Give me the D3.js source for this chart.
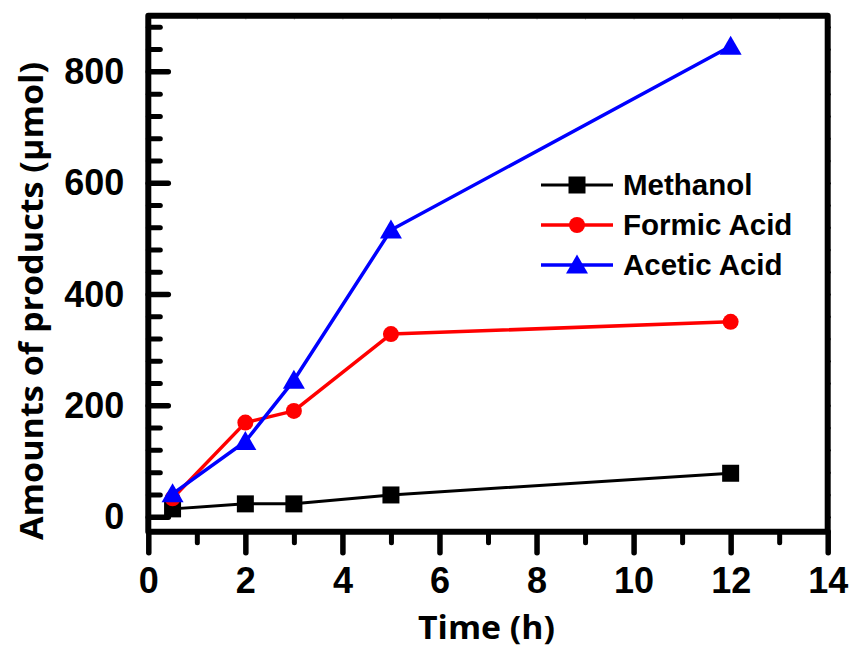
<!DOCTYPE html>
<html>
<head>
<meta charset="utf-8">
<script src="https://cdn.jsdelivr.net/npm/d3@7"></script>
<style>
  html, body { margin: 0; padding: 0; background: #fff; }
  svg { display: block; }
</style>
</head>
<body>
<svg id="chart" width="855" height="649"></svg>
<script>
// ---- data ----
const times = [0.5, 2, 3, 5, 12];
const methanol = [14, 23, 23, 39, 78];
const formicAcid = [33, 169, 190, 328, 350];
const aceticAcid = [41, 135, 245, 515, 845];
const seriesNames = ["Methanol", "Formic Acid", "Acetic Acid"];
const xMajorTicks = [0, 2, 4, 6, 8, 10, 12, 14];
const xMinorTicks = [1, 3, 5, 7, 9, 11, 13];
const yMajorTicks = [0, 200, 400, 600, 800];
const yMinorTicks = [40, 80, 120, 160, 240, 280, 320, 360, 440, 480, 520, 560, 640, 680, 720, 760, 840, 880];

const svg = d3.select("#chart");
const L = 148.3, R = 827.7, T = 15.7, B = 531.7;
const x = d3.scaleLinear().domain([0, 14]).range([L, R]);
const y = d3.scaleLinear().domain([-27, 900]).range([B, T]);

const tickFont = "'Liberation Sans', Arial, sans-serif";
const titleFont = "'Open Sans', Lato, sans-serif";

function styleAxis(g, w) {
  g.select(".domain").remove();
  g.selectAll(".tick line").attr("stroke", "#000").attr("stroke-width", w).attr("stroke-linecap", "round");
  g.selectAll(".tick text").attr("fill", "#000").attr("font-family", tickFont)
    .attr("font-weight", "bold").attr("font-size", 36);
}

// bottom axis (outward ticks)
const gxMinor = svg.append("g").attr("transform", `translate(0,${B})`)
  .call(d3.axisBottom(x).tickValues(xMinorTicks).tickSize(11).tickFormat(""));
styleAxis(gxMinor, 5);
const gx = svg.append("g").attr("transform", `translate(0,${B})`)
  .call(d3.axisBottom(x).tickValues(xMajorTicks).tickSize(21).tickPadding(15).tickFormat(d3.format("d")));
styleAxis(gx, 5.5);

// left axis (inward ticks)
const gyMinor = svg.append("g").attr("transform", `translate(${L},0)`)
  .call(d3.axisLeft(y).tickValues(yMinorTicks).tickSize(-12).tickFormat(""));
styleAxis(gyMinor, 5);
const gy = svg.append("g").attr("transform", `translate(${L},0)`)
  .call(d3.axisLeft(y).tickValues(yMajorTicks).tickSize(-20).tickPadding(24).tickFormat(d3.format("d")));
styleAxis(gy, 5.5);
gy.selectAll(".tick text").attr("dy", "0.34em");

// top axis faint ticks and right axis small ticks
const gTop = svg.append("g").attr("transform", `translate(0,${T})`)
  .call(d3.axisBottom(x).tickValues(xMajorTicks.concat(xMinorTicks)).tickSize(4).tickFormat(""));
gTop.select(".domain").remove();
gTop.selectAll(".tick line").attr("stroke", "#bbb").attr("stroke-width", 1);
const gRight = svg.append("g").attr("transform", `translate(${R},0)`)
  .call(d3.axisRight(y).tickValues(yMajorTicks.concat(yMinorTicks)).tickSize(1.5).tickFormat(""));
gRight.select(".domain").remove();
gRight.selectAll(".tick line").attr("stroke", "#000").attr("stroke-width", 3).attr("stroke-linecap", "round");

// frame
svg.append("rect").attr("x", L).attr("y", T).attr("width", R - L).attr("height", B - T)
  .attr("fill", "none").attr("stroke", "#000").attr("stroke-width", 6).attr("stroke-linejoin", "round");

// series
const series = [
  { name: seriesNames[0], values: methanol, color: "#000000", sym: "square", lw: 3 },
  { name: seriesNames[1], values: formicAcid, color: "#ff0000", sym: "circle", lw: 3.5 },
  { name: seriesNames[2], values: aceticAcid, color: "#0000ff", sym: "triangle", lw: 3.5 }
];
const symbolPath = {
  square: d3.symbol().type(d3.symbolSquare).size(17 * 17)(),
  circle: d3.symbol().type(d3.symbolCircle).size(Math.PI * 8 * 8)(),
  triangle: "M0,-10.5L11,8.5L-11,8.5Z"
};
const line = d3.line().x(d => x(d[0])).y(d => y(d[1]));

series.forEach(s => {
  const pts = times.map((t, i) => [t, s.values[i]]);
  svg.append("path").datum(pts).attr("d", line).attr("fill", "none")
    .attr("stroke", s.color).attr("stroke-width", s.lw).attr("stroke-linejoin", "round");
  svg.selectAll(null).data(pts).enter().append("path")
    .attr("d", symbolPath[s.sym])
    .attr("transform", d => `translate(${x(d[0])},${y(d[1])})`)
    .attr("fill", s.color);
});

// legend
const lg = svg.append("g");
series.forEach((s, i) => {
  const yy = 185 + i * 40;
  lg.append("line").attr("x1", 541).attr("x2", 613).attr("y1", yy).attr("y2", yy)
    .attr("stroke", s.color).attr("stroke-width", s.lw);
  lg.append("path").attr("d", symbolPath[s.sym]).attr("transform", `translate(577,${yy})`).attr("fill", s.color);
  lg.append("text").attr("x", 623).attr("y", yy + 10).text(s.name)
    .attr("font-family", tickFont).attr("font-weight", "bold").attr("font-size", 29.5).attr("fill", "#000");
});

// axis titles
svg.append("text").attr("x", 486.5).attr("y", 639).attr("text-anchor", "middle")
  .attr("font-family", titleFont).attr("font-weight", "bold").attr("font-size", 32).attr("fill", "#000")
  .attr("textLength", 137).attr("lengthAdjust", "spacingAndGlyphs")
  .text("Time (h)");
svg.append("text").attr("transform", "translate(43,301) rotate(-90)").attr("text-anchor", "middle")
  .attr("font-family", titleFont).attr("font-weight", "bold").attr("font-size", 32).attr("fill", "#000")
  .attr("textLength", 478).attr("lengthAdjust", "spacingAndGlyphs")
  .text("Amounts of products (μmol)");
</script>
</body>
</html>
